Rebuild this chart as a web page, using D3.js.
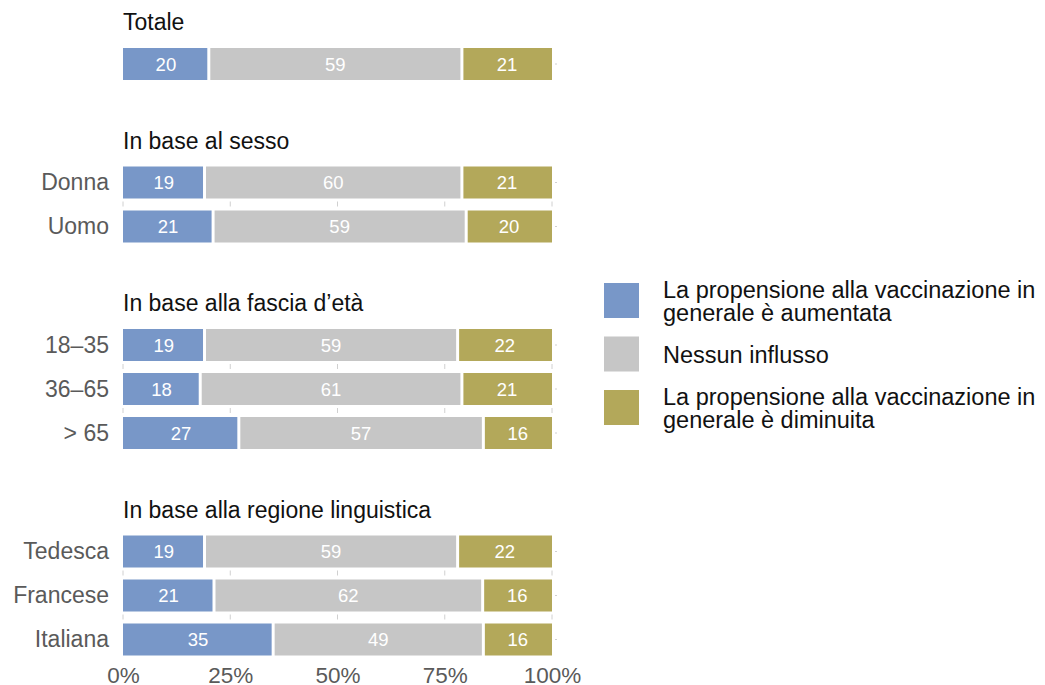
<!DOCTYPE html>
<html>
<head>
<meta charset="utf-8">
<script src="https://cdn.jsdelivr.net/npm/d3@7"></script>
<style>
  body { margin: 0; background: #fff; }
  svg { font-family: "Helvetica Neue", Helvetica, Arial, "Liberation Sans", sans-serif; }
</style>
</head>
<body>
<svg id="chart"></svg>
<script>
// --- data ---
const groupTitles = ["Totale", "In base al sesso", "In base alla fascia d’età", "In base alla regione linguistica"];
const categories = ["", "Donna", "Uomo", "18–35", "36–65", "> 65", "Tedesca", "Francese", "Italiana"];
const rowGroup = [0, 1, 1, 2, 2, 2, 3, 3, 3];
const aumentata = [20, 19, 21, 19, 18, 27, 19, 21, 35];
const nessunInflusso = [59, 60, 59, 59, 61, 57, 59, 62, 49];
const diminuita = [21, 21, 20, 22, 21, 16, 22, 16, 16];
const seriesNames = [
    "La propensione alla vaccinazione in generale è aumentata",
    "Nessun influsso",
    "La propensione alla vaccinazione in generale è diminuita"
];
const legendLines = [
    ["La propensione alla vaccinazione in", "generale è aumentata"],
    ["Nessun influsso"],
    ["La propensione alla vaccinazione in", "generale è diminuita"]
];
const xTicks = [0, 25, 50, 75, 100];

// --- setup ---
const width = 1045;
const height = 685;
const barHeight = 32;
const groupGap = 74.5 / 44;   // extra space before a group, in row units
const gap = 1.5;              // white gap between segments

const svg = d3.select("#chart")
    .attr("width", width)
    .attr("height", height)
    .attr("viewBox", [0, 0, width, height]);

// shares (rows are normalised to 100%)
const x = d3.scaleLinear().domain([0, 1]).range([123, 552]);
// row slot -> top of bar
const y = d3.scaleLinear().domain([0, 1]).range([48, 92]);
const slot = i => i + rowGroup[i] * groupGap;

const color = d3.scaleOrdinal()
    .domain(seriesNames)
    .range(["#7897c8", "#c6c6c6", "#b3a85a"]);

// stack rows
const rows = categories.map((c, i) => ({
    cat: c, i, group: rowGroup[i],
    values: [aumentata[i], nessunInflusso[i], diminuita[i]]
}));
const stack = d3.stack()
    .keys([0, 1, 2])
    .value((d, k) => d.values[k])
    .offset(d3.stackOffsetExpand);
const layers = stack(rows);

// --- group titles ---
svg.append("g")
  .selectAll("text")
  .data(groupTitles)
  .join("text")
    .attr("x", x(0))
    .attr("y", (d, g) => y(slot(rowGroup.indexOf(g))) - 18)
    .attr("font-size", 23)
    .attr("fill", "#111")
    .text(d => d);

// --- small tick marks between bars of the same group ---
const tickRows = rows.filter((r, i) => i + 1 < rows.length && rowGroup[i + 1] === r.group);
svg.append("g")
  .selectAll("g")
  .data(tickRows)
  .join("g")
  .selectAll("line")
  .data(r => xTicks.map(t => ({ t, r })))
  .join("line")
    .attr("x1", d => x(d.t / 100))
    .attr("x2", d => x(d.t / 100))
    .attr("y1", d => y(slot(d.r.i)) + barHeight + 3)
    .attr("y2", d => y(slot(d.r.i)) + barHeight + 8)
    .attr("stroke", "#d0d0d0")
    .attr("stroke-width", 1);

// tiny dots right of each bar
svg.append("g")
  .selectAll("line")
  .data(rows)
  .join("line")
    .attr("x1", x(1) + 3)
    .attr("x2", x(1) + 5)
    .attr("y1", d => y(slot(d.i)) + barHeight / 2)
    .attr("y2", d => y(slot(d.i)) + barHeight / 2)
    .attr("stroke", "#d0d0d0")
    .attr("stroke-width", 1);

// --- bars ---
const layerG = svg.append("g")
  .selectAll("g")
  .data(layers)
  .join("g")
    .attr("fill", (d, k) => color(seriesNames[k]));

layerG.selectAll("rect")
  .data((d, k) => d.map(s => ({ s, k })))
  .join("rect")
    .attr("x", d => x(d.s[0]) + (d.k > 0 ? gap : 0))
    .attr("width", d => x(d.s[1]) - x(d.s[0]) - (d.k > 0 ? gap : 0) - (d.k < 2 ? gap : 0))
    .attr("y", d => y(slot(d.s.data.i)))
    .attr("height", barHeight);

layerG.selectAll("text")
  .data((d, k) => d.map(s => ({ s, k })))
  .join("text")
    .attr("x", d => x((d.s[0] + d.s[1]) / 2))
    .attr("y", d => y(slot(d.s.data.i)) + barHeight / 2)
    .attr("dy", "0.36em")
    .attr("text-anchor", "middle")
    .attr("font-size", 18.5)
    .attr("fill", "#fff")
    .text(d => d.s.data.values[d.k]);

// --- row labels ---
svg.append("g")
  .selectAll("text")
  .data(rows.filter(r => r.cat !== ""))
  .join("text")
    .attr("x", 109)
    .attr("y", d => y(slot(d.i)) + barHeight / 2)
    .attr("dy", "0.33em")
    .attr("text-anchor", "end")
    .attr("font-size", 23)
    .attr("fill", "#5a5a5a")
    .text(d => d.cat);

// --- x axis ---
svg.append("g")
    .attr("transform", `translate(0,${y(slot(categories.length - 1)) + barHeight})`)
    .call(d3.axisBottom(x)
        .tickValues(xTicks.map(t => t / 100))
        .tickFormat(d3.format(".0%"))
        .tickSize(0)
        .tickPadding(12))
    .call(g => g.select(".domain").remove())
    .call(g => g.selectAll("text")
        .attr("font-size", 22.5)
        .attr("font-family", null)
        .attr("fill", "#5a5a5a"));

// --- legend ---
const keySize = 35;
const legend = svg.append("g")
  .selectAll("g")
  .data(seriesNames)
  .join("g")
    .attr("transform", (d, k) => `translate(604,${283 + k * 53.5})`);

legend.append("rect")
    .attr("width", keySize)
    .attr("height", keySize)
    .attr("fill", d => color(d));

legend.append("text")
    .attr("font-size", 23.5)
    .attr("fill", "#111")
  .selectAll("tspan")
  .data((d, k) => legendLines[k].map((line, j, arr) => ({ line, j, n: arr.length })))
  .join("tspan")
    .attr("x", 59)
    .attr("y", d => keySize / 2 + 9 + (d.j - (d.n - 1) / 2) * 23)
    .text(d => d.line);
</script>
</body>
</html>
